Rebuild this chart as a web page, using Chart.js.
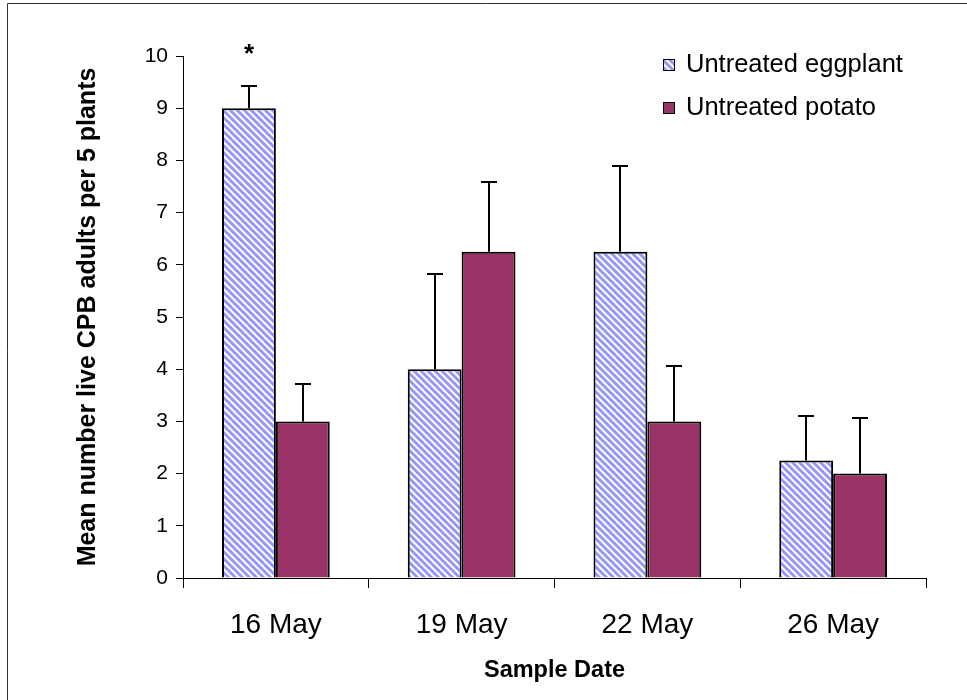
<!DOCTYPE html>
<html>
<head>
<meta charset="utf-8">
<script src="https://cdn.jsdelivr.net/npm/chart.js@4.4.1/dist/chart.umd.min.js"></script>
<style>
  html, body { margin: 0; padding: 0; background: #ffffff; }
  #wrap { position: relative; width: 967px; height: 700px; }
</style>
</head>
<body>
<div id="wrap"><canvas id="c" width="967" height="700"></canvas></div>
<script>
// Sample dates and mean live CPB adult counts per 5 plants
const dates = ['16 May', '19 May', '22 May', '26 May'];
const eggplantMean = [9, 4, 6.25, 2.25];
const eggplantErr  = [0.43, 1.82, 1.65, 0.85];
const potatoMean   = [3, 6.25, 3, 2];
const potatoErr    = [0.71, 1.34, 1.06, 1.07];
const yTicks = [0, 1, 2, 3, 4, 5, 6, 7, 8, 9, 10];
// significance markers, one per date (empty = none)
const eggplantMarks = ['*', '', '', ''];

const FONT = "'Liberation Sans', Arial, sans-serif";
const PLUM = '#993366';

// diagonal hatch used for the eggplant series
function makeHatch() {
  const n = 7;
  const t = document.createElement('canvas');
  t.width = n; t.height = n;
  const g = t.getContext('2d');
  const img = g.createImageData(n, n);
  const B = [150,150,250], M = [196,196,255], W = [255,255,255];
  const cols = [B, B, B, M, W, W, M];
  for (let y = 0; y < n; y++) {
    for (let x = 0; x < n; x++) {
      const k = ((x - y) % n + n) % n;
      const c = cols[k];
      const i = (y * n + x) * 4;
      img.data[i] = c[0]; img.data[i+1] = c[1]; img.data[i+2] = c[2]; img.data[i+3] = 255;
    }
  }
  g.putImageData(img, 0, 0);
  return document.getElementById('c').getContext('2d').createPattern(t, 'repeat');
}
const hatch = makeHatch();

// upward error bars with caps, plus text markers above them
const errorBars = {
  id: 'errorBars',
  afterDatasetsDraw(chart) {
    const ctx = chart.ctx;
    const y = chart.scales.y;
    ctx.save();
    ctx.strokeStyle = '#000';
    ctx.lineWidth = 2;
    chart.data.datasets.forEach((ds, di) => {
      const meta = chart.getDatasetMeta(di);
      meta.data.forEach((bar, i) => {
        const top = y.getPixelForValue(ds.data[i]);
        const end = Math.round(y.getPixelForValue(ds.data[i] + ds.errors[i]));
        const x = Math.round(bar.x);
        ctx.beginPath();
        ctx.moveTo(x, top);
        ctx.lineTo(x, end);
        ctx.moveTo(x - 8, end);
        ctx.lineTo(x + 8, end);
        ctx.stroke();
        if (ds.marks && ds.marks[i]) {
          ctx.fillStyle = '#000';
          ctx.font = 'bold 26px ' + FONT;
          ctx.textAlign = 'center';
          ctx.textBaseline = 'middle';
          ctx.fillText(ds.marks[i], x, end - 31);
        }
      });
    });
    ctx.restore();
  }
};

// legend block inside the plot, top right
const boxLegend = {
  id: 'boxLegend',
  afterDraw(chart) {
    const ctx = chart.ctx;
    ctx.save();
    chart.data.datasets.forEach((ds, di) => {
      const cy = 65 + di * 43;
      ctx.fillStyle = ds.backgroundColor;
      ctx.fillRect(663, cy - 6, 12, 12);
      ctx.strokeStyle = '#000';
      ctx.lineWidth = 1;
      ctx.strokeRect(663.5, cy - 5.5, 11, 11);
      ctx.fillStyle = '#000';
      ctx.font = '25.5px ' + FONT;
      ctx.textAlign = 'left';
      ctx.textBaseline = 'middle';
      ctx.fillText(ds.label, 686, cy);
    });
    ctx.restore();
  }
};

// thin frame along the top and left edges
const frame = {
  id: 'frame',
  beforeDraw(chart) {
    const ctx = chart.ctx;
    ctx.save();
    ctx.fillStyle = '#fff';
    ctx.fillRect(0, 0, chart.width, chart.height);
    ctx.strokeStyle = '#333';
    ctx.lineWidth = 1;
    ctx.beginPath();
    ctx.moveTo(7.5, chart.height);
    ctx.lineTo(7.5, 3.5);
    ctx.lineTo(chart.width, 3.5);
    ctx.stroke();
    ctx.restore();
  }
};

new Chart(document.getElementById('c'), {
  type: 'bar',
  data: {
    labels: dates,
    datasets: [
      { label: 'Untreated eggplant', data: eggplantMean, errors: eggplantErr, marks: eggplantMarks,
        backgroundColor: hatch, borderColor: '#000', borderWidth: 2 },
      { label: 'Untreated potato', data: potatoMean, errors: potatoErr,
        backgroundColor: PLUM, borderColor: '#000', borderWidth: 2 }
    ]
  },
  options: {
    responsive: false,
    animation: false,
    devicePixelRatio: 1,
    layout: { padding: { left: 0, right: 41, top: 56, bottom: 0 } },
    datasets: { bar: { categoryPercentage: 0.58, barPercentage: 1.0 } },
    plugins: { legend: { display: false }, tooltip: { enabled: false } },
    scales: {
      x: {
        afterFit(s) { s.height = 122; },
        border: { display: true, color: '#000', width: 1 },
        grid: { display: true, drawOnChartArea: false, drawTicks: true, tickLength: 10, color: '#000', offset: true },
        ticks: { color: '#000', font: { family: FONT, size: 28 }, padding: 20 },
        title: { display: true, text: 'Sample Date', color: '#000',
                 font: { family: FONT, size: 23.5, weight: 'bold' }, padding: { top: 0, bottom: 15 } }
      },
      y: {
        min: 0, max: 10,
        afterFit(s) { s.width = 183; },
        afterBuildTicks(s) { s.ticks = yTicks.map(v => ({ value: v })); },
        border: { display: true, color: '#000', width: 1 },
        grid: { display: true, drawOnChartArea: false, drawTicks: true, tickLength: 7, color: '#000' },
        ticks: { color: '#000', font: { family: FONT, size: 21 }, padding: 8 },
        title: { display: true, text: 'Mean number live CPB adults per 5 plants', color: '#000',
                 font: { family: FONT, size: 25, weight: 'bold' }, padding: { top: 73, bottom: 0 } }
      }
    }
  },
  plugins: [frame, errorBars, boxLegend]
});
</script>
</body>
</html>
